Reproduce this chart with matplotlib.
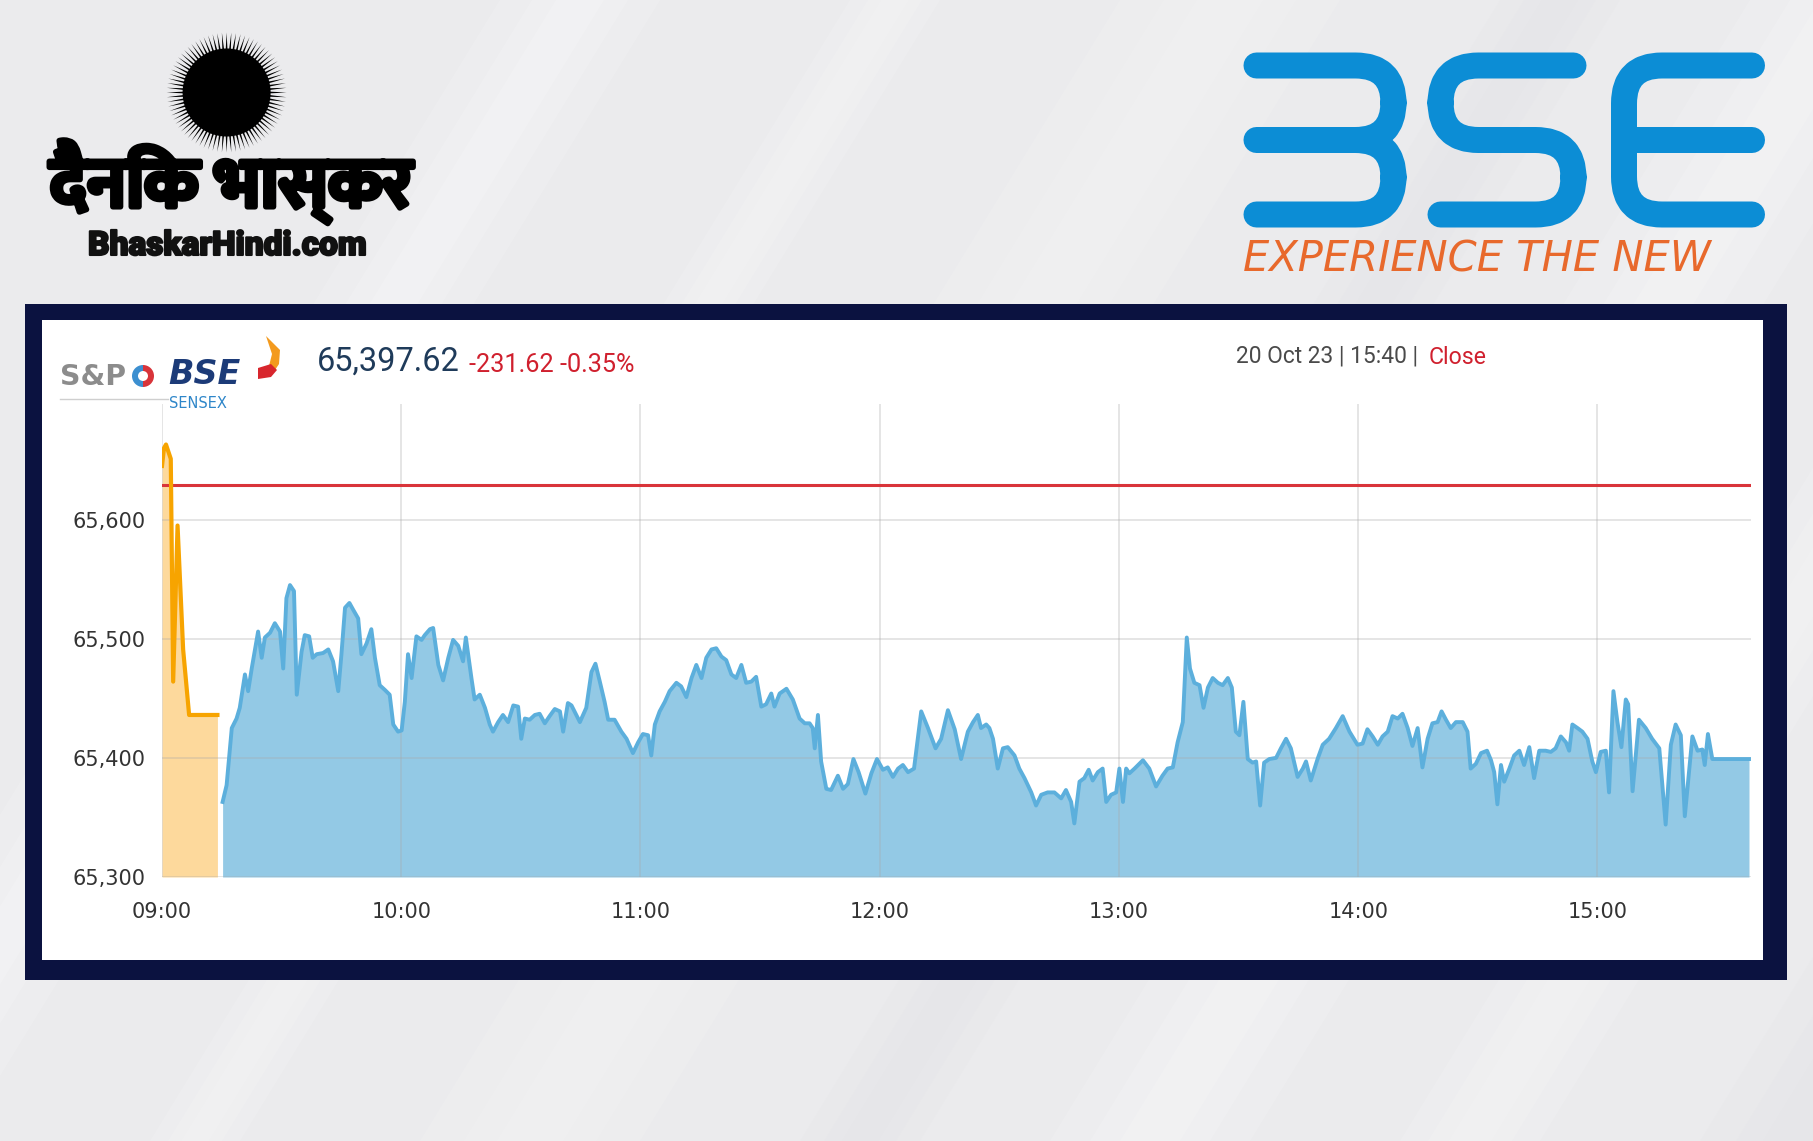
import numpy as np
import matplotlib
matplotlib.use("Agg")
import matplotlib.pyplot as plt
import matplotlib.patheffects as pe
from matplotlib.patches import Rectangle, Circle, Polygon, PathPatch, Wedge
from matplotlib.path import Path
from matplotlib import font_manager, ft2font
from matplotlib.ticker import StrMethodFormatter

# ---- data (minutes after 09:00, Sensex value) ----
pre_t = [0, 0.5, 1.0, 2.2, 2.8, 3.9, 5.3, 6.8, 13.9]
pre_v = [65645, 65660, 65663, 65651, 65464, 65595, 65491, 65436, 65436]

t = [15.2, 16.2, 17.5, 18.7, 19.5, 20.8, 21.6, 22.5, 24.1, 25.0, 25.8, 27.1, 28.3, 29.6, 30.4,
     31.2, 32.1, 33.1, 33.8, 35.0, 35.8, 36.9, 37.8, 38.8, 40.4, 41.7, 42.9, 44.2, 45.0, 45.9,
     47.0, 48.0, 49.2, 50.0, 51.3, 52.5, 53.4, 54.6, 55.9, 57.1, 58.0, 59.2, 60.1, 60.9, 61.7,
     62.6, 63.8, 65.1, 65.9, 67.2, 68.0, 69.3, 70.5, 71.8, 73.0, 74.3, 75.5, 76.2, 77.6, 78.4,
     79.7, 81.0, 82.2, 83.0, 84.3, 85.5, 86.8, 88.1, 89.3, 90.1, 91.0, 92.2, 93.5, 94.7, 96.0,
     97.2, 98.5, 99.8, 100.6, 101.8, 102.7, 103.9, 104.8, 106.4, 107.7, 108.7, 109.8, 111.0, 111.9, 113.5,
     115.2, 116.5, 118.1, 119.4, 120.6, 121.9, 122.7, 123.6, 124.8, 126.1, 127.3, 129.0, 130.2, 131.5, 132.8,
     134.0, 135.3, 136.5, 137.8, 139.0, 140.3, 141.5, 142.8, 144.0, 145.3, 146.5, 147.8, 149.0, 150.3, 151.5,
     152.8, 153.6, 154.9, 156.6, 158.2, 159.9, 161.2, 162.4, 163.2, 163.7, 164.5, 165.3, 166.6, 167.8, 169.5,
     170.8, 172.0, 173.4, 174.7, 176.4, 177.9, 179.3, 180.8, 182.0, 183.3, 184.6, 185.8, 187.1, 188.6, 190.4,
     192.1, 194.0, 195.4, 197.1, 198.8, 200.4, 202.1, 203.4, 204.6, 205.4, 206.7, 207.5, 208.4, 209.6, 210.9,
     212.1, 213.8, 215.0, 216.3, 218.0, 219.2, 220.5, 222.1, 223.8, 225.5, 226.7, 228.0, 228.8, 230.1, 231.3,
     232.4, 233.4, 234.7, 235.9, 236.8, 238.0, 239.3, 240.1, 241.0, 241.8, 242.6, 243.9, 245.1, 246.0, 247.6,
     249.3, 250.9, 252.2, 253.5, 254.7, 256.0, 257.0, 257.8, 258.9, 260.2, 261.2, 262.3, 263.5, 264.8, 266.0,
     267.3, 268.3, 269.3, 270.2, 271.2, 272.3, 273.5, 274.4, 275.4, 276.4, 277.7, 279.4, 280.6, 281.9, 283.1,
     284.8, 286.1, 286.9, 288.1, 289.8, 291.1, 292.7, 294.4, 296.1, 297.8, 299.8, 301.1, 302.3, 303.6, 304.9,
     306.1, 307.4, 308.6, 309.9, 311.1, 312.4, 313.6, 314.9, 316.1, 317.4, 318.6, 319.9, 320.9, 322.0, 323.2,
     324.5, 326.2, 327.4, 328.2, 329.5, 330.8, 332.3, 333.3, 334.1, 334.9, 335.8, 336.6, 337.9, 339.1, 340.4,
     341.6, 342.9, 344.1, 345.4, 347.0, 348.3, 349.5, 350.8, 352.1, 352.9, 353.7, 355.0, 356.2, 357.5, 358.7,
     359.6, 360.8, 362.1, 362.9, 364.0, 365.0, 366.0, 367.1, 367.7, 368.8, 370.4, 372.1, 373.7, 375.5, 377.1,
     378.4, 379.6, 380.9, 381.9, 383.8, 385.1, 386.3, 386.9, 387.7, 388.8, 398.0]
v = [65363, 65377, 65425, 65433, 65442, 65470, 65456, 65475, 65506, 65484, 65501, 65505, 65513, 65506, 65475,
     65534, 65545, 65540, 65453, 65489, 65503, 65502, 65484, 65487, 65488, 65491, 65481, 65456, 65487, 65526,
     65530, 65524, 65517, 65487, 65496, 65508, 65484, 65461, 65457, 65453, 65428, 65422, 65423, 65447, 65487,
     65467, 65502, 65499, 65503, 65508, 65509, 65478, 65465, 65484, 65499, 65494, 65481, 65501, 65467, 65449,
     65453, 65442, 65428, 65422, 65430, 65436, 65430, 65444, 65443, 65416, 65433, 65432, 65436, 65437, 65429,
     65435, 65441, 65439, 65422, 65446, 65444, 65436, 65430, 65442, 65472, 65479, 65464, 65447, 65432, 65432,
     65422, 65416, 65404, 65413, 65420, 65419, 65402, 65428, 65439, 65447, 65456, 65463, 65460, 65451, 65467,
     65478, 65467, 65484, 65491, 65492, 65485, 65482, 65470, 65467, 65478, 65463, 65464, 65468, 65443, 65445,
     65454, 65443, 65454, 65458, 65449, 65433, 65429, 65429, 65425, 65408, 65436, 65397, 65374, 65373, 65385,
     65374, 65378, 65399, 65388, 65370, 65387, 65399, 65390, 65392, 65384, 65391, 65394, 65388, 65391, 65439,
     65425, 65408, 65416, 65440, 65424, 65399, 65422, 65430, 65436, 65425, 65428, 65425, 65416, 65391, 65408,
     65409, 65402, 65391, 65383, 65371, 65360, 65369, 65371, 65371, 65366, 65373, 65363, 65345, 65380, 65383,
     65390, 65381, 65388, 65391, 65363, 65369, 65371, 65391, 65363, 65391, 65387, 65391, 65395, 65398, 65391,
     65376, 65385, 65391, 65392, 65413, 65430, 65501, 65475, 65463, 65461, 65442, 65459, 65467, 65463, 65461,
     65467, 65459, 65422, 65419, 65447, 65399, 65396, 65397, 65360, 65396, 65399, 65400, 65408, 65416, 65408,
     65384, 65391, 65397, 65381, 65399, 65411, 65416, 65425, 65435, 65422, 65411, 65412, 65424, 65418, 65411,
     65418, 65422, 65435, 65433, 65437, 65425, 65410, 65425, 65392, 65416, 65429, 65430, 65439, 65432, 65425,
     65430, 65430, 65422, 65391, 65395, 65404, 65406, 65398, 65388, 65361, 65394, 65380, 65391, 65402, 65406,
     65394, 65409, 65383, 65406, 65406, 65405, 65408, 65418, 65413, 65406, 65428, 65425, 65422, 65416, 65397,
     65388, 65405, 65406, 65371, 65456, 65430, 65409, 65449, 65445, 65372, 65432, 65425, 65416, 65408, 65344,
     65411, 65428, 65419, 65351, 65418, 65406, 65407, 65394, 65420, 65399, 65399]

prev_close = 65629.24
hour_ticks = [0, 60, 120, 180, 240, 300, 360]
hour_labels = ["09:00", "10:00", "11:00", "12:00", "13:00", "14:00", "15:00"]
y_ticks = [65300, 65400, 65500, 65600]

W, H = 1813, 1141
fig = plt.figure(figsize=(W / 100, H / 100), dpi=100)
fig.patch.set_facecolor("#ebebed")

# decoration layer in pixel coords
deco = fig.add_axes([0, 0, 1, 1], zorder=0)
deco.set_xlim(0, W)
deco.set_ylim(H, 0)
deco.axis("off")

# soft diagonal streaks in the background
for x0, wd, col, a in [(-200, 160, "white", 0.25), (150, 90, "white", 0.2), (420, 220, "white", 0.18),
                       (800, 120, "#dcdce0", 0.15), (1050, 200, "white", 0.22), (1400, 140, "white", 0.2),
                       (1700, 180, "#dcdce0", 0.15), (1950, 160, "white", 0.22)]:
    for k, f in enumerate([1.0, 0.6, 0.3]):
        d = wd * (1 - f) / 2
        deco.add_patch(Polygon([[x0 + d, H], [x0 + wd - d, H], [x0 + wd - d + 700, 0], [x0 + d + 700, 0]],
                               closed=True, color=col, alpha=a * 0.6, lw=0))

# navy frame and white panel
deco.add_patch(Rectangle((25, 304), 1762, 676, color="#0b1240", lw=0))
deco.add_patch(Rectangle((42, 320), 1721, 640, color="white", lw=0))

renderer = fig.canvas.get_renderer()


def fit_text(x0, x1, y, s, **kw):
    txt = deco.text(x0, y, s, ha="left", va="center", **kw)
    w = txt.get_window_extent(renderer).width
    txt.set_fontsize(txt.get_fontsize() * (x1 - x0) / w)
    return txt


# --- Dainik Bhaskar logo ---
cx, cy = 226.6, 92.5
deco.add_patch(Circle((cx, cy), 44, color="black", lw=0))
for ang in np.linspace(0, 2 * np.pi, 80, endpoint=False):
    da = 0.03
    pts = [[cx + 38 * np.cos(ang - da), cy + 38 * np.sin(ang - da)],
           [cx + 60 * np.cos(ang), cy + 60 * np.sin(ang)],
           [cx + 38 * np.cos(ang + da), cy + 38 * np.sin(ang + da)]]
    deco.add_patch(Polygon(pts, closed=True, color="black", lw=0))

deva_path = None
for p in font_manager.findSystemFonts():
    try:
        if 0x0915 in ft2font.FT2Font(p).get_charmap():
            deva_path = p
            if "Bold" in p:
                break
    except Exception:
        pass
heavy = [pe.withStroke(linewidth=4, foreground="black")]
if deva_path:
    hindi_fp = font_manager.FontProperties(fname=deva_path, size=40)
    fit_text(50, 413, 182, "दैनिक भास्कर", fontproperties=hindi_fp, color="black", path_effects=heavy)
else:
    fit_text(50, 413, 182, "दैनिक भास्कर", fontsize=40, fontweight="bold", color="black")

fit_text(88, 367, 246, "BhaskarHindi.com", fontsize=26, fontweight="black", color="#111111",
         family=["Roboto", "DejaVu Sans"],
         path_effects=[pe.withStroke(linewidth=1.5, foreground="#111111")])

# --- BSE logo drawn with rounded strokes ---
blue = "#0c8dd5"
T, M, B = 65.5, 140.0, 214.5
r = 38
lw_logo = 26 * 72 / 100


def stroke(verts, codes):
    deco.add_patch(PathPatch(Path(verts, codes), fill=False, ec=blue, lw=lw_logo,
                             capstyle="round", joinstyle="round"))


MV, LN, C3 = Path.MOVETO, Path.LINETO, Path.CURVE3
L, R = 1256.5, 1393.5
stroke([(L, T), (R - r, T), (R, T), (R, T + r), (R, M - r), (R, M), (R - r, M), (L, M)],
       [MV, LN, C3, C3, LN, C3, C3, LN])
stroke([(R - r, M), (R, M), (R, M + r), (R, B - r), (R, B), (R - r, B), (L, B)],
       [MV, C3, C3, LN, C3, C3, LN])
L, R = 1440.5, 1573.5
stroke([(R, T), (L + r, T), (L, T), (L, T + r), (L, M - r), (L, M), (L + r, M), (R - r, M),
        (R, M), (R, M + r), (R, B - r), (R, B), (R - r, B), (L, B)],
       [MV, LN, C3, C3, LN, C3, C3, LN, C3, C3, LN, C3, C3, LN])
L, R = 1624, 1752
stroke([(R, T), (L + r, T), (L, T), (L, T + r), (L, B - r), (L, B), (L + r, B), (R, B)],
       [MV, LN, C3, C3, LN, C3, C3, LN])
stroke([(L, M), (R, M)], [MV, LN])
deco.text(1243, 260, "EXPERIENCE THE NEW", ha="left", va="center", fontsize=30,
          fontstyle="italic", color="#e8692c", family="DejaVu Sans")

# --- chart header ---
fit_text(60, 126, 377, "S&P", fontsize=18, fontweight="bold", color="#8c8c8c")
deco.add_patch(Wedge((143, 376), 11, 90, 270, color="#3c8fd0", lw=0))
deco.add_patch(Wedge((143, 376), 11, 270, 90, color="#d8343a", lw=0))
deco.add_patch(Circle((143, 376), 5, color="white", lw=0))
deco.plot([60, 168], [399, 399], color="#cfcfcf", lw=1)
deco.text(168, 374, "BSE", ha="left", va="center", fontsize=24, fontweight="bold",
          fontstyle="italic", color="#1c3b78")
deco.text(169, 403, "SENSEX", ha="left", va="center", fontsize=10.5, color="#2e86c9")
fx = -10
deco.add_patch(Polygon([[276 + fx, 336], [290 + fx, 350], [289 + fx, 364], [281 + fx, 376],
                        [268 + fx, 378], [279 + fx, 366], [282 + fx, 354]],
                       closed=True, color="#f39a1e", lw=0))
deco.add_patch(Polygon([[268 + fx, 368], [281 + fx, 364], [287 + fx, 370], [281 + fx, 377],
                        [268 + fx, 379]], closed=True, color="#d8262d", lw=0))
fit_text(317, 460, 362, "65,397.62", fontsize=24, color="#1f3b5a", family="Roboto")
fit_text(469, 634, 365, "-231.62 -0.35%", fontsize=18, color="#d0202e", family="Roboto")
fit_text(1236, 1424, 356, "20 Oct 23 | 15:40 | ", fontsize=17, color="#4a4a4a", family="Roboto")
fit_text(1429, 1487, 357, "Close", fontsize=17, color="#d0202e", family="Roboto")

# --- the chart itself ---
ax = fig.add_axes([162 / W, 1 - 877 / H, (1751 - 162) / W, (877 - 404) / H], zorder=2)
ax.patch.set_alpha(0)
ax.fill_between(pre_t, pre_v, y_ticks[0], color="#fdd99c", lw=0, zorder=1)
ax.plot(pre_t, pre_v, color="#f7a400", lw=3.0, zorder=4, solid_joinstyle="round")
ax.fill_between(t, v, y_ticks[0], color="#93c9e5", lw=0, zorder=1)
ax.plot(t, v, color="#5cafdc", lw=2.8, zorder=4, solid_joinstyle="round")
ax.axhline(prev_close, color="#d9343a", lw=2.2, zorder=3)

ax.set_xlim(0, 398.5)
ax.set_ylim(65300, 65697)
ax.set_xticks(hour_ticks, hour_labels)
ax.set_yticks(y_ticks)
ax.yaxis.set_major_formatter(StrMethodFormatter("{x:,.0f}"))
ax.set_axisbelow(False)
ax.grid(True, color="#a8a8a8", alpha=0.35, lw=1.2)
ax.tick_params(length=0, labelsize=15, labelcolor="#333333")
ax.tick_params(axis="x", pad=18)
ax.tick_params(axis="y", pad=12)
for s in ax.spines.values():
    s.set_visible(False)

fig.savefig("out.png", dpi=100)
